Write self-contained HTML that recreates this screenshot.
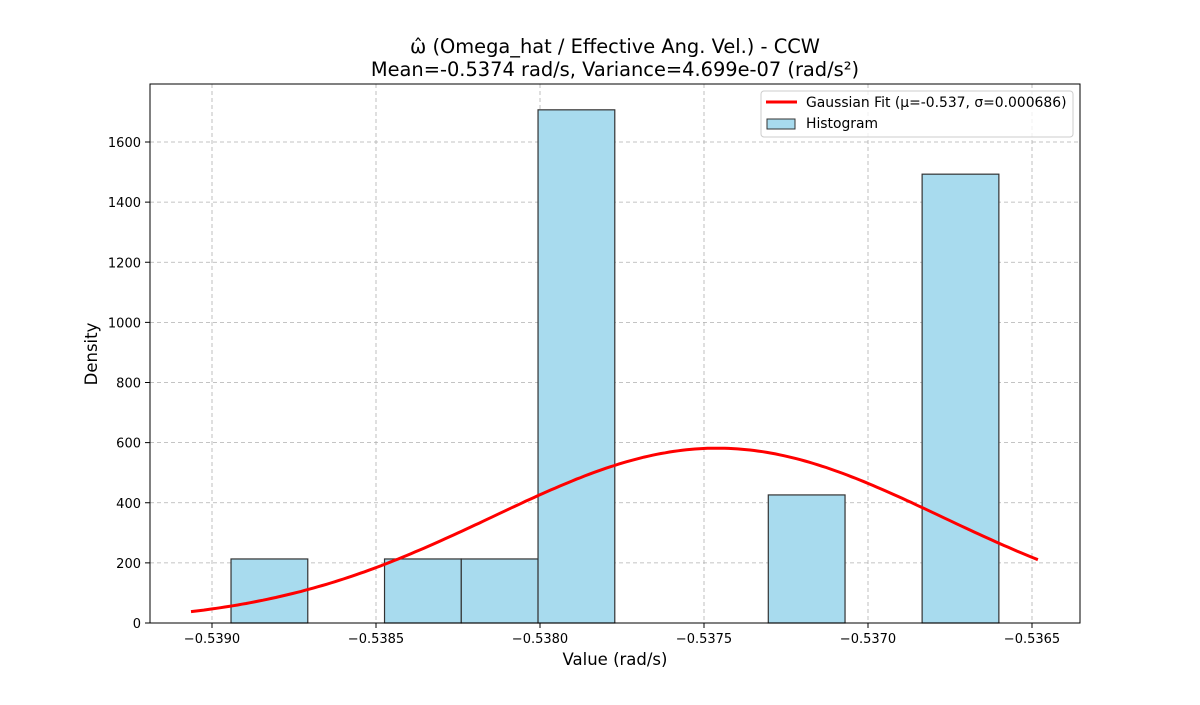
<!DOCTYPE html>
<html><head><meta charset="utf-8"><style>
body{margin:0;background:#fff;}
svg text{font-family:"DejaVu Sans","Liberation Sans",sans-serif;}
</style></head><body>
<svg id="chart" width="1200" height="700" xmlns="http://www.w3.org/2000/svg">
<rect width="1200" height="700" fill="#fff"/>
<text x="615" y="53" font-size="19.4" text-anchor="middle">ω̂ (Omega_hat / Effective Ang. Vel.) - CCW</text>
<text x="615" y="76" font-size="19.4" text-anchor="middle">Mean=-0.5374 rad/s, Variance=4.699e-07 (rad/s²)</text>
<g id="grid"></g>
<g id="bars"></g>
<g id="curve"></g>
<rect x="150" y="84" width="930" height="539" fill="none" stroke="#000" stroke-width="1"/>
<g id="axes"></g>
<text x="615" y="665" font-size="16.5" text-anchor="middle">Value (rad/s)</text>
<text x="97" y="354" font-size="16.5" text-anchor="middle" transform="rotate(-90 97 354)">Density</text>
<g>
<rect x="761" y="91" width="312" height="46" rx="3" fill="#fff" fill-opacity="0.8" stroke="#ccc"/>
<line x1="766" y1="102" x2="797" y2="102" stroke="red" stroke-width="3"/>
<text x="806" y="107" font-size="13.9">Gaussian Fit (μ=-0.537, σ=0.000686)</text>
<rect x="767" y="119" width="28" height="10" fill="#a8dbee" stroke="#333"/>
<text x="806" y="128" font-size="13.9">Histogram</text>
</g>
</svg>
<script>
const binEdges=[-0.538942,-0.538708,-0.538474,-0.538240,-0.538006,-0.537772,-0.537538,-0.537304,-0.537070,-0.536835,-0.536601];
const counts=[213,0,213,213,1707,0,0,426,0,1493];
const xTicks=[-0.5390,-0.5385,-0.5380,-0.5375,-0.5370,-0.5365];
const yTicks=[0,200,400,600,800,1000,1200,1400,1600];
const mu=-0.53746, sigma=0.000686, xMin=-0.539064, xMax=-0.536482;
const NS="http://www.w3.org/2000/svg";
const X=v=>212+(v+0.5390)/0.0005*164;
const Y=v=>623-v*(481/1600);
function mk(t,a,p){const e=document.createElementNS(NS,t);for(const k in a)e.setAttribute(k,a[k]);document.getElementById(p).appendChild(e);return e;}
xTicks.forEach(t=>{const l=mk('line',{x1:X(t),x2:X(t),y1:84,y2:623,stroke:'#b0b0b0','stroke-dasharray':'4,3','stroke-width':0.8},'grid');

mk('line',{x1:X(t),x2:X(t),y1:623,y2:628,stroke:'#000'},'axes');
const tx=mk('text',{x:X(t),y:643,'font-size':13,'text-anchor':'middle'},'axes');tx.textContent=t.toFixed(4).replace('-','−');
});
yTicks.forEach(t=>{if(t>0){const l=mk('line',{x1:150,x2:1080,y1:Y(t),y2:Y(t),stroke:'#b0b0b0','stroke-dasharray':'4,3','stroke-width':0.8},'grid');
}
mk('line',{x1:145,x2:150,y1:Y(t),y2:Y(t),stroke:'#000'},'axes');
const tx=mk('text',{x:141,y:Y(t)+5,'font-size':13,'text-anchor':'end'},'axes');tx.textContent=t;
});
counts.forEach((c,i)=>{if(c<=0)return;const r=mk('rect',{x:X(binEdges[i]),y:Y(c),width:X(binEdges[i+1])-X(binEdges[i]),height:Y(0)-Y(c),fill:'#a8dbee',stroke:'#333','stroke-width':1.2},'bars');
});
let d='';for(let i=0;i<=200;i++){const v=xMin+(xMax-xMin)*i/200;const y=Math.exp(-0.5*((v-mu)/sigma)**2)/(sigma*Math.sqrt(2*Math.PI));d+=(i?'L':'M')+X(v).toFixed(1)+','+Y(y).toFixed(1);}
const p=mk('path',{d:d,fill:'none',stroke:'red','stroke-width':3},'curve');

</script>
</body></html>
